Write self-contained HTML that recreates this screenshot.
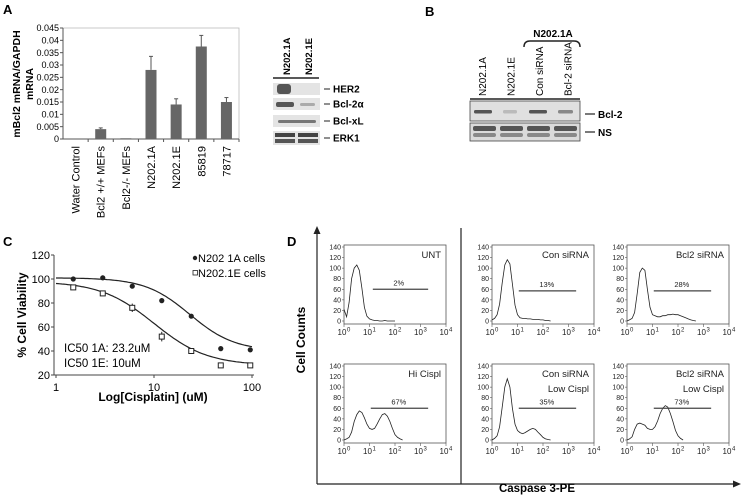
<!DOCTYPE html>
<html><head><meta charset="utf-8"><style>
html,body{margin:0;padding:0;background:#fff;}
svg{display:block;font-family:"Liberation Sans",sans-serif;}
</style></head><body>
<svg id="fig" width="743" height="497" viewBox="0 0 743 497" xmlns="http://www.w3.org/2000/svg">
<g id="pA"></g>
<g id="pBlotA"></g>
<g id="pB"></g>
<g id="pC"></g>
<g id="pD"></g>
</svg>
<script>
// ---------- Panel A data ----------
const aCategories = ["Water Control","Bcl2 +/+ MEFs","Bcl2-/- MEFs","N202.1A","N202.1E","85819","78717"];
const aValues = [0,0.004,0.0003,0.028,0.014,0.0375,0.015];
const aErrors = [0,0.0005,0,0.0055,0.0023,0.0045,0.0018];
const aTicks = [0,0.005,0.01,0.015,0.02,0.025,0.03,0.035,0.04,0.045];
const aTickLabels = ["0","0.005","0.01","0.015","0.02","0.025","0.03","0.035","0.04","0.045"];
// ---------- Panel C data ----------
const cDose = [1.5,3,6,12,24,48,96];
const c1A = [100,101,94,82,69,42,41];
const c1E = [93,88,76,52,40,28,28];
const c1AErr = [1,2,1,2,1.5,1.5,2];
const c1EErr = [1.5,2,3.5,4,1.5,2,1.5];
const cYTicks = [20,40,60,80,100,120];
const cXTicks = [1,10,100];
// ---------- Panel D data (counts at log10 = 0,0.1,0.2,...) ----------
const dUNT = [22,8,35,80,100,106,96,62,26,9,4,2,1,1,0,0,1,0,0,0,0];
const dConSi = [2,5,12,32,72,106,116,108,70,30,12,6,5,5,4,4,3,3,3,2,2,1,1,0];
const dBcl2Si = [0,2,5,16,52,92,100,96,60,26,12,10,8,8,10,10,12,12,13,12,12,10,8,6,4,2,1,0];
const dHiCis = [0,2,5,15,35,48,55,52,42,30,22,20,22,30,40,48,50,45,35,22,10,5,2,0];
const dConLow = [0,3,8,25,62,100,116,100,60,30,18,14,12,14,17,20,22,20,15,10,5,2,1,0];
const dBcl2Low = [0,2,6,20,30,32,30,28,22,20,20,25,36,50,60,65,62,50,35,18,8,3,0];
const dTitles = [["UNT"],["Con siRNA"],["Bcl2 siRNA"],["Hi Cispl"],["Con siRNA","Low Cispl"],["Bcl2 siRNA","Low Cispl"]];
const dPercents = ["2%","13%","28%","67%","35%","73%"];
const dGateY = [60,57,57,60,60,60];
const dYTicks = [0,20,40,60,80,100,120,140];

const NS="http://www.w3.org/2000/svg";
function mk(parent,tag,attrs,text){const e=document.createElementNS(NS,tag);for(const k in attrs)e.setAttribute(k,attrs[k]);if(text!==undefined)e.textContent=text;parent.appendChild(e);return e;}

// ---------- Panel A ----------
(function(){
 const g=document.getElementById('pA');
 const t=mk(g,'text',{x:3,y:14,'font-size':13,'font-weight':'bold'},'A');
 
 const X0=63,X1=239,Y0=139,Y1=28,ymax=0.045;
 const y=v=>Y0-(v/ymax)*(Y0-Y1);
 const bw=(X1-X0)/aCategories.length;
 mk(g,'rect',{x:X0,y:Y1,width:X1-X0,height:Y0-Y1,fill:'none',stroke:'#bbb','stroke-width':0.8});
 mk(g,'line',{x1:X0,y1:Y1,x2:X0,y2:Y0,stroke:'#555'});
 mk(g,'line',{x1:X0,y1:Y0,x2:X1,y2:Y0,stroke:'#555'});
 aTicks.forEach((v,i)=>{
  mk(g,'line',{x1:X0-3,y1:y(v),x2:X0,y2:y(v),stroke:'#555'});
  const l=mk(g,'text',{x:X0-4,y:y(v)+3.2,'font-size':9,'text-anchor':'end'},aTickLabels[i]);
  
 });
 aCategories.forEach((c,i)=>{
  const cx=X0+bw*(i+0.5);
  mk(g,'line',{x1:X0+bw*(i+1),y1:Y0,x2:X0+bw*(i+1),y2:Y0+3,stroke:'#555'});
  if(aValues[i]>0){
   const b=mk(g,'rect',{x:cx-5.5,y:y(aValues[i]),width:11,height:Y0-y(aValues[i]),fill:'#666'});
   
  }
  if(aErrors[i]>0){
   const ye=y(aValues[i]+aErrors[i]);
   mk(g,'line',{x1:cx,y1:y(aValues[i]),x2:cx,y2:ye,stroke:'#555'});
   mk(g,'line',{x1:cx-2,y1:ye,x2:cx+2,y2:ye,stroke:'#555'});
  }
  const l=mk(g,'text',{x:0,y:0,'font-size':11,'text-anchor':'end',transform:`translate(${cx+4},${Y0+7}) rotate(-90)`},c);
  
 });
 const yt=mk(g,'text',{x:0,y:0,'font-size':10.5,'font-weight':'bold','text-anchor':'middle',transform:'translate(20,84) rotate(-90)'},'mBcl2 mRNA/GAPDH');
 
 const yt2=mk(g,'text',{x:0,y:0,'font-size':10.5,'font-weight':'bold','text-anchor':'middle',transform:'translate(33,84) rotate(-90)'},'mRNA');
 
})();

// ---------- Blot in A ----------
(function(){
 const g=document.getElementById('pBlotA');
 ['N202.1A','N202.1E'].forEach((s,i)=>{
  const l=mk(g,'text',{x:0,y:0,'font-size':9.5,'font-weight':'bold',transform:`translate(${290+i*22},75) rotate(-90)`},s);
  
 });
 mk(g,'line',{x1:273,y1:78,x2:319,y2:78,stroke:'#222','stroke-width':1.5});
 const rows=[['HER2',83,12],['Bcl-2\u03b1',98,12],['Bcl-xL',115,12],['ERK1',131,14]];
 rows.forEach((r,i)=>{
  mk(g,'rect',{x:273,y:r[1],width:47,height:r[2],fill:'#e4e4e4'});
  if(i===0){mk(g,'rect',{x:277,y:r[1]+1,width:14,height:10,rx:3,fill:'#555'});}
  if(i===1){mk(g,'rect',{x:276,y:r[1]+4,width:18,height:5,rx:2,fill:'#555'});mk(g,'rect',{x:300,y:r[1]+5,width:15,height:3,rx:1.5,fill:'#aaa'});}
  if(i===2){mk(g,'rect',{x:278,y:r[1]+5,width:38,height:3,rx:1.5,fill:'#777'});}
  if(i===3){mk(g,'rect',{x:275,y:r[1]+2,width:20,height:4,fill:'#444'});mk(g,'rect',{x:298,y:r[1]+2,width:20,height:4,fill:'#444'});mk(g,'rect',{x:275,y:r[1]+8,width:20,height:4,fill:'#555'});mk(g,'rect',{x:298,y:r[1]+8,width:20,height:4,fill:'#555'});}
  mk(g,'line',{x1:324,y1:r[1]+r[2]/2,x2:330,y2:r[1]+r[2]/2,stroke:'#222'});
  const l=mk(g,'text',{x:333,y:r[1]+r[2]/2+3.5,'font-size':10,'font-weight':'bold'},r[0]);
  
 });
})();

// ---------- Panel B ----------
(function(){
 const g=document.getElementById('pB');
 const t=mk(g,'text',{x:425,y:16,'font-size':13,'font-weight':'bold'},'B');
 
 const h=mk(g,'text',{x:553,y:37,'font-size':10,'font-weight':'bold','text-anchor':'middle'},'N202.1A');
 
 mk(g,'path',{d:'M524,47 Q524,41 530,41 L574,41 Q580,41 580,47',fill:'none',stroke:'#222','stroke-width':1.5});
 ['N202.1A','N202.1E','Con siRNA','Bcl-2 siRNA'].forEach((s,i)=>{
  const l=mk(g,'text',{x:0,y:0,'font-size':10,transform:`translate(${486+i*28.5},96) rotate(-90)`},s);
  
 });
 mk(g,'line',{x1:470,y1:99,x2:580,y2:99,stroke:'#222','stroke-width':1.5});
 mk(g,'rect',{x:470,y:101,width:110,height:20,fill:'#e0e0e0',stroke:'#444','stroke-width':0.8});
 mk(g,'rect',{x:470,y:123,width:110,height:18,fill:'#dadada',stroke:'#444','stroke-width':0.8});
 [[474,18,'#555'],[503,14,'#bbb'],[529,18,'#555'],[558,15,'#888']].forEach(b=>mk(g,'rect',{x:b[0],y:110,width:b[1],height:3.5,rx:1.5,fill:b[2]}));
 [0,1,2,3].forEach(i=>{mk(g,'rect',{x:473+i*27,y:126,width:23,height:5,rx:2,fill:'#555'});mk(g,'rect',{x:473+i*27,y:133,width:23,height:4,rx:2,fill:'#888'});});
 mk(g,'line',{x1:585,y1:114,x2:595,y2:114,stroke:'#222','stroke-width':1.2});
 mk(g,'line',{x1:585,y1:132,x2:595,y2:132,stroke:'#222','stroke-width':1.2});
 const l1=mk(g,'text',{x:598,y:118,'font-size':10,'font-weight':'bold'},'Bcl-2');
 
 const l2=mk(g,'text',{x:598,y:136,'font-size':10,'font-weight':'bold'},'NS');
 
})();

// ---------- Panel C ----------
(function(){
 const g=document.getElementById('pC');
 const t=mk(g,'text',{x:3,y:246,'font-size':13,'font-weight':'bold'},'C');
 
 const XL=56,DEC=98,Y0=375,Y1=255;
 const x=v=>XL+Math.log10(v)*DEC;
 const y=v=>Y0-(v-20)/100*(Y0-Y1);
 mk(g,'line',{x1:54,y1:Y1,x2:54,y2:Y0,stroke:'#444'});
 mk(g,'line',{x1:54,y1:Y0,x2:254,y2:Y0,stroke:'#444'});
 cYTicks.forEach(v=>{
  mk(g,'line',{x1:51,y1:y(v),x2:54,y2:y(v),stroke:'#444'});
  const l=mk(g,'text',{x:50,y:y(v)+4,'font-size':11,'text-anchor':'end'},String(v));
  
 });
 cXTicks.forEach(v=>{
  mk(g,'line',{x1:x(v),y1:Y0,x2:x(v),y2:Y0+3,stroke:'#444'});
  const l=mk(g,'text',{x:x(v),y:Y0+16,'font-size':11,'text-anchor':'middle'},String(v));
  
 });
 const xt=mk(g,'text',{x:153,y:401,'font-size':12,'font-weight':'bold','text-anchor':'middle'},'Log[Cisplatin] (uM)');
 
 const yt=mk(g,'text',{x:0,y:0,'font-size':12,'font-weight':'bold','text-anchor':'middle',transform:'translate(26,315) rotate(-90)'},'% Cell Viability');
 
 function fit(top,bot,ic,hh){let d='';for(let k=0;k<=100;k++){const lv=k/50;const v=Math.pow(10,lv);const val=bot+(top-bot)/(1+Math.pow(v/ic,hh));d+=(k?'L':'M')+x(v).toFixed(1)+','+y(val).toFixed(1);}return d;}
 const f1=mk(g,'path',{d:fit(101,40,23.2,1.9),fill:'none',stroke:'#222','stroke-width':1.2});
 
 const f2=mk(g,'path',{d:fit(98,28,10,1.6),fill:'none',stroke:'#222','stroke-width':1.2});
 
 cDose.forEach((d,i)=>{
  mk(g,'line',{x1:x(d),y1:y(c1A[i]-c1AErr[i]),x2:x(d),y2:y(c1A[i]+c1AErr[i]),stroke:'#222'});
  const p=mk(g,'circle',{cx:x(d),cy:y(c1A[i]),r:2.6,fill:'#222'});
  
  mk(g,'line',{x1:x(d),y1:y(c1E[i]-c1EErr[i]),x2:x(d),y2:y(c1E[i]+c1EErr[i]),stroke:'#222'});
  const q=mk(g,'rect',{x:x(d)-2.5,y:y(c1E[i])-2.5,width:5,height:5,fill:'#fff',stroke:'#222'});
  
 });
 mk(g,'circle',{cx:195,cy:258,r:2.2,fill:'#222'});
 const le1=mk(g,'text',{x:198,y:262,'font-size':11},'N202 1A cells');
 
 mk(g,'rect',{x:193,y:270.5,width:4.5,height:4.5,fill:'#fff',stroke:'#222','stroke-width':0.8});
 const le2=mk(g,'text',{x:198,y:277,'font-size':11},'N202.1E cells');
 
 const i1=mk(g,'text',{x:64,y:352,'font-size':11.5},'IC50 1A: 23.2uM');
 
 const i2=mk(g,'text',{x:64,y:367,'font-size':11.5},'IC50 1E: 10uM');
 
})();

// ---------- Panel D ----------
(function(){
 const g=document.getElementById('pD');
 const t=mk(g,'text',{x:287,y:246,'font-size':13,'font-weight':'bold'},'D');
 
 mk(g,'line',{x1:317,y1:484,x2:317,y2:232,stroke:'#222','stroke-width':1.2});
 mk(g,'path',{d:'M313.5,234 L317,226 L320.5,234 Z',fill:'#222'});
 mk(g,'line',{x1:317,y1:484,x2:734,y2:484,stroke:'#222','stroke-width':1.2});
 mk(g,'path',{d:'M733,480.5 L741,484 L733,487.5 Z',fill:'#222'});
 mk(g,'line',{x1:461,y1:228,x2:461,y2:484,stroke:'#222','stroke-width':1.2});
 const yt=mk(g,'text',{x:0,y:0,'font-size':12,'font-weight':'bold','text-anchor':'middle',transform:'translate(305,340) rotate(-90)'},'Cell Counts');
 
 const xt=mk(g,'text',{x:537,y:492,'font-size':11.5,'font-weight':'bold','text-anchor':'middle'},'Caspase 3-PE');
 
 const series=[dUNT,dConSi,dBcl2Si,dHiCis,dConLow,dBcl2Low];
 const boxes=[[344,245],[492,245],[627,245],[344,364],[492,364],[627,364]];
 const W=102,H=79;
 series.forEach((s,i)=>{
  const [bx,by]=boxes[i];
  const sg=mk(g,'g',{});
  
  
  const x=lv=>bx+lv/4*W;
  const y=v=>by+H-3-v/140*(H-5);
  mk(sg,'rect',{x:bx,y:by,width:W,height:H,fill:'none',stroke:'#555','stroke-width':0.8});
  dYTicks.forEach(v=>{
   mk(sg,'line',{x1:bx-2,y1:y(v),x2:bx,y2:y(v),stroke:'#555','stroke-width':0.6});
   const l=mk(sg,'text',{x:bx-3,y:y(v)+2.5,'font-size':7,'text-anchor':'end',fill:'#222'},String(v));
   
  });
  for(let d=0;d<=4;d++){
   mk(sg,'line',{x1:x(d),y1:by+H,x2:x(d),y2:by+H+3,stroke:'#555','stroke-width':0.6});
   const l=mk(sg,'text',{x:x(d)-2,y:by+H+11,'font-size':8,'text-anchor':'middle',fill:'#222'},'10');
   
   mk(sg,'text',{x:x(d)+3,y:by+H+7.5,'font-size':6,fill:'#222'},String(d));
  }
  let p='';s.forEach((v,k)=>{p+=(k?'L':'M')+x(k*0.1).toFixed(1)+','+y(v).toFixed(1);});
  const path=mk(sg,'path',{d:p,fill:'none',stroke:'#222','stroke-width':0.8});
  
  const gy=y(dGateY[i]);
  const gate=mk(sg,'line',{x1:x(i===0?1.13:1.05),y1:gy,x2:x(3.3),y2:gy,stroke:'#444','stroke-width':1.3});
  
  const pc=mk(sg,'text',{x:x(2.15),y:gy-4,'font-size':7.5,'text-anchor':'middle',fill:'#222'},dPercents[i]);
  
  dTitles[i].forEach((tt,k)=>{
   const l=mk(sg,'text',{x:bx+W-5,y:by+13+k*15,'font-size':9.5,'text-anchor':'end',fill:'#222'},tt);
   
  });
 });
})();
</script>
</body></html>
